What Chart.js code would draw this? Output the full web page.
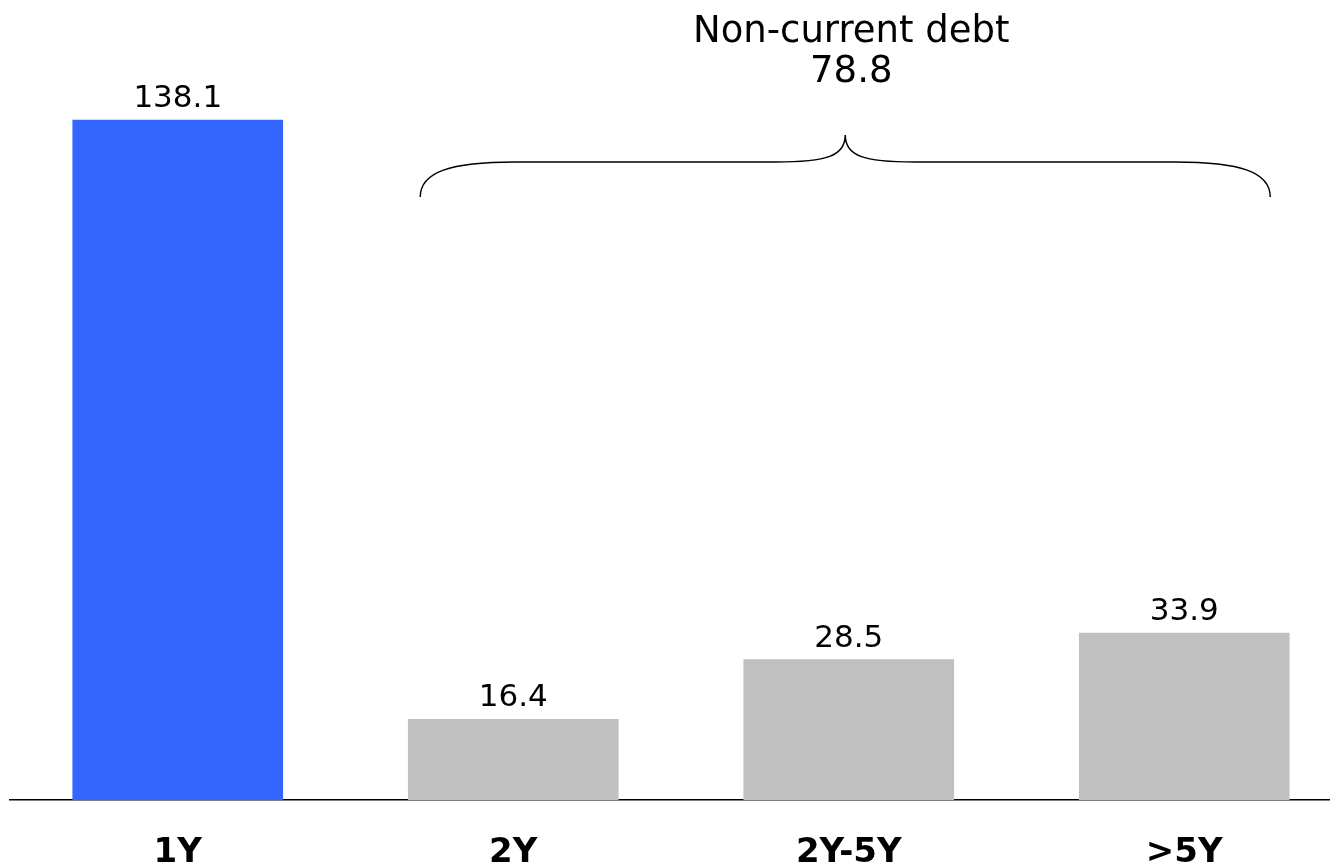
<!DOCTYPE html>
<html lang="en">
<head>
    <meta charset="UTF-8">
    <title>Debt maturity</title>
    <script src="https://cdn.jsdelivr.net/npm/chart.js"></script>
    <style>
        html, body { margin: 0; padding: 0; background: #fff; overflow: hidden; }
        #wrap { width: 1352px; height: 865px; }
    </style>
</head>
<body>
    <div id="wrap"><canvas id="debtChart" width="1352" height="865"></canvas></div>

    <script>
        // data
        const categories = ['1Y', '2Y', '2Y-5Y', '>5Y'];
        const debtValues = [138.1, 16.4, 28.5, 33.9];
        const barColors = ['#3366FF', '#C0C0C0', '#C0C0C0', '#C0C0C0'];
        const braceTitle = 'Non-current debt';
        const braceFrom = 1, braceTo = 3; // indices of the non-current bars

        const fontFamily = '"DejaVu Sans", Verdana, sans-serif';

        // value labels above each bar
        const valueLabels = {
            id: 'valueLabels',
            afterDatasetsDraw(chart) {
                const ctx = chart.ctx;
                const meta = chart.getDatasetMeta(0);
                ctx.save();
                ctx.font = '31px ' + fontFamily;
                ctx.fillStyle = '#000';
                ctx.textAlign = 'center';
                ctx.textBaseline = 'alphabetic';
                meta.data.forEach((bar, i) => {
                    ctx.fillText(debtValues[i].toFixed(1), bar.x, bar.y - 13);
                });
                ctx.restore();
            }
        };

        // curly brace over the non-current bars with total
        const braceLabel = {
            id: 'braceLabel',
            afterDraw(chart) {
                const ctx = chart.ctx;
                const meta = chart.getDatasetMeta(0);
                const first = meta.data[braceFrom], last = meta.data[braceTo];
                const x0 = first.x - first.width / 2 + 12;
                const x1 = last.x + last.width / 2 - 19;
                const xm = (x0 + x1) / 2;
                const yBar = 162, yEnd = 197, yTip = 135;

                ctx.save();
                ctx.strokeStyle = '#000';
                ctx.lineWidth = 1.5;
                ctx.beginPath();
                ctx.moveTo(x0, yEnd);
                ctx.bezierCurveTo(x0, 172, x0 + 30, yBar, x0 + 95, yBar);
                ctx.lineTo(xm - 70, yBar);
                ctx.bezierCurveTo(xm - 18, yBar, xm, 156, xm, yTip);
                ctx.bezierCurveTo(xm, 156, xm + 18, yBar, xm + 70, yBar);
                ctx.lineTo(x1 - 95, yBar);
                ctx.bezierCurveTo(x1 - 30, yBar, x1, 172, x1, yEnd);
                ctx.stroke();

                let total = 0;
                for (let i = braceFrom; i <= braceTo; i++) total += debtValues[i];
                ctx.font = '37px ' + fontFamily;
                ctx.fillStyle = '#000';
                ctx.textAlign = 'center';
                ctx.textBaseline = 'middle';
                ctx.fillText(braceTitle, xm + 6, 32);
                ctx.fillText(total.toFixed(1), xm + 6, 72);
                ctx.restore();
            }
        };

        new Chart(document.getElementById('debtChart').getContext('2d'), {
            type: 'bar',
            data: {
                labels: categories,
                datasets: [{
                    data: debtValues,
                    backgroundColor: barColors,
                    borderWidth: 0,
                    barThickness: 210
                }]
            },
            options: {
                responsive: false,
                animation: false,
                layout: { padding: { left: 10, right: 0, top: 0, bottom: 0 } },
                plugins: {
                    legend: { display: false },
                    tooltip: { enabled: false }
                },
                scales: {
                    x: {
                        grid: { display: false, drawTicks: false },
                        border: { display: true, color: '#000', width: 1.5 },
                        ticks: {
                            color: '#000',
                            padding: 33,
                            font: { family: fontFamily, size: 34, weight: 'bold' }
                        },
                        afterFit(scale) { scale.height = 65; }
                    },
                    y: {
                        display: false,
                        min: 0,
                        max: 162.5
                    }
                }
            },
            plugins: [valueLabels, braceLabel]
        });
    </script>
</body>
</html>
